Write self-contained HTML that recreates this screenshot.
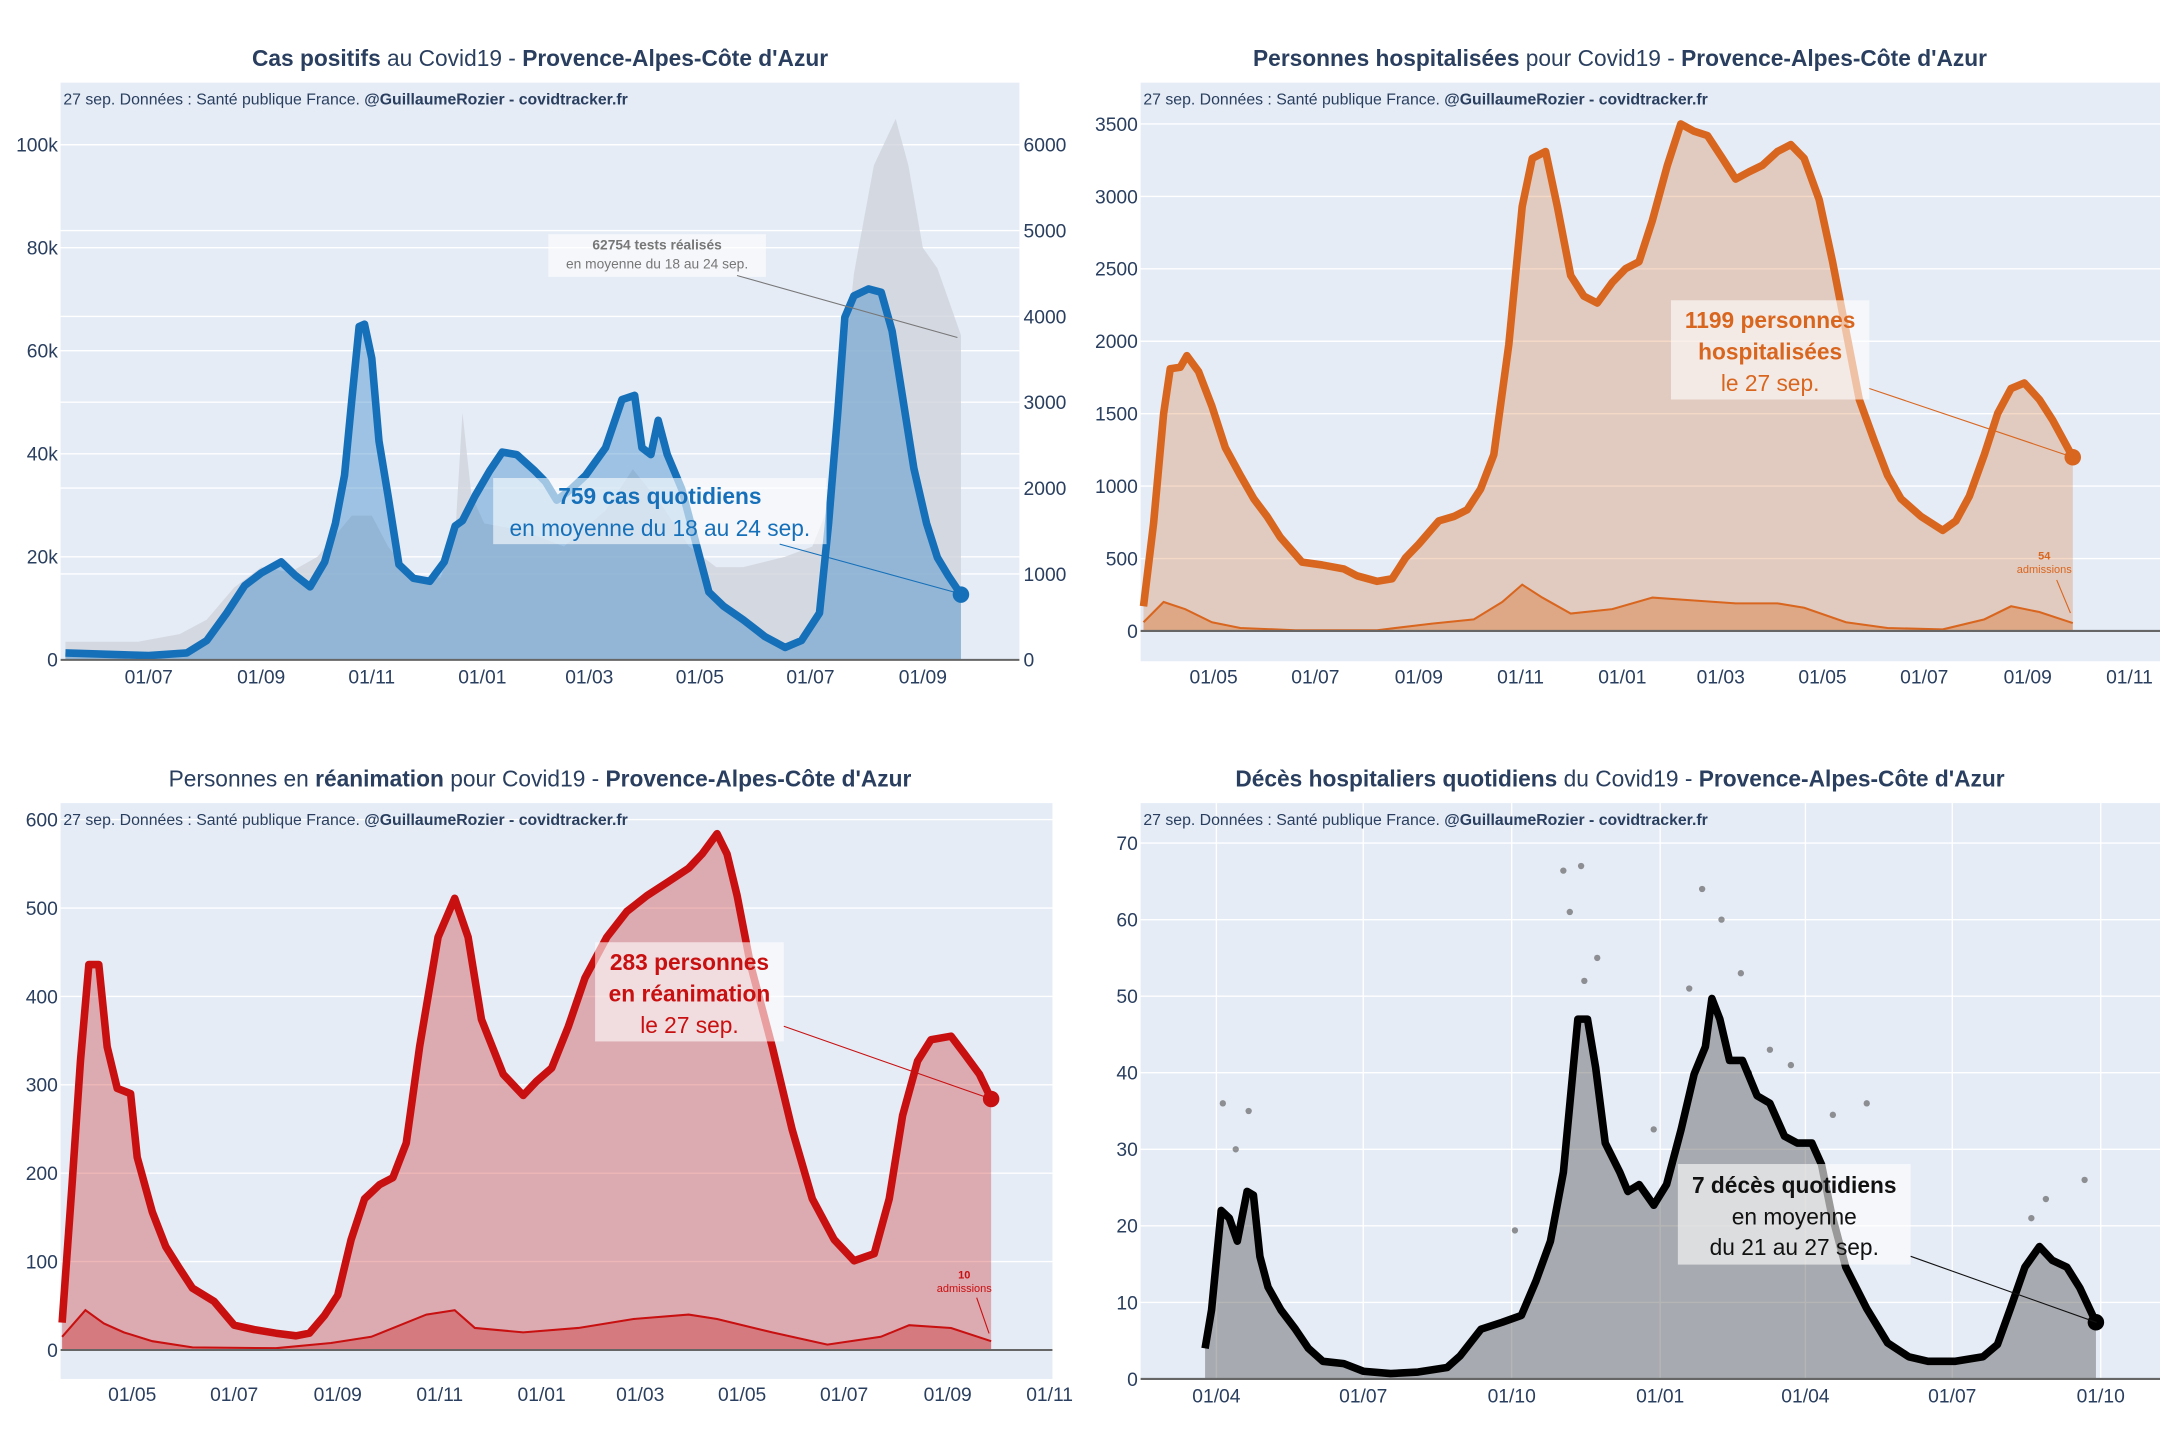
<!DOCTYPE html>
<html><head><meta charset="utf-8"><style>
html,body{margin:0;padding:0;background:#fff;}
svg{display:block;font-family:"Liberation Sans","DejaVu Sans",sans-serif;}
</style></head><body>
<svg id="root" width="2160" height="1440" viewBox="0 0 1568 1045.33" xmlns="http://www.w3.org/2000/svg"></svg>
<script>
// ---- Chart 1: cases (right axis) & tests (left axis), days from 2020-07-01
const casesDays=[-46,0,21,32,43,53,62,73,81,89,97,103,108,112,116,119,123,127,132,138,146,155,163,169,173,180,188,195,203,213,219,225,233,241,252,261,268,272,277,281,286,294,302,309,317,328,340,351,360,370,375,380,384,389,397,404,410,416,422,429,435,441,448];
const casesValues=[80,50,80,225,545,866,1010,1140,980,850,1140,1590,2150,3030,3880,3910,3510,2550,1910,1110,950,915,1140,1560,1620,1910,2200,2420,2390,2200,2070,1860,1990,2150,2470,3030,3080,2470,2390,2790,2390,1990,1350,790,625,465,270,145,225,545,1590,2870,3990,4240,4320,4280,3830,3030,2230,1590,1190,980,760];
const testsDays=[-46,-6,17,32,47,62,78,93,112,123,132,146,161,169,173,178,185,207,229,252,267,283,298,313,328,351,366,374,381,389,400,412,419,427,435,442,448];
const testsValues=[3.5,3.5,5,7.8,14,18,17,20,28,28,22,16,16,24,48,32,26.5,25,22,29,37,30,22,18,18,20,22,29,48,75,96,105,96,80,76,69,63];
const c1LeftTicks=["0","20k","40k","60k","80k","100k"];
const c1RightTicks=["0","1000","2000","3000","4000","5000","6000"];
const c1XTickDays=[0,62,123,184,243,304,365,427];
const c1XTickLabels=["01/07","01/09","01/11","01/01","01/03","01/05","01/07","01/09"];
// ---- Chart 2: hospitalisations, days from 2020-05-01
const hospDays=[-42,-36,-30,-26,-20,-16,-9,-1,7,16,24,32,40,53,65,78,86,98,107,115,123,135,144,152,160,168,177,185,191,199,206,214,222,230,239,247,255,263,272,280,288,296,305,313,321,329,338,346,354,363,371,379,387,396,404,412,424,437,445,453,462,470,478,486,495,503,515];
const hospValues=[170,742,1500,1810,1820,1900,1790,1550,1265,1075,913,790,647,475,456,428,380,342,360,504,600,760,790,837,980,1217,1978,2930,3262,3310,2930,2454,2311,2264,2406,2501,2549,2834,3215,3500,3450,3420,3262,3120,3170,3215,3310,3357,3262,2977,2549,2073,1598,1313,1075,913,790,694,760,930,1217,1503,1674,1712,1598,1455,1199];
const hospAdmDays=[-42,-30,-17,-1,16,49,98,131,156,173,185,197,214,239,263,288,313,338,354,379,404,437,462,478,495,515];
const hospAdmValues=[60,200,150,60,20,5,5,50,80,200,320,230,120,150,230,210,190,190,160,60,20,10,80,170,130,54];
const c2YTicks=[0,500,1000,1500,2000,2500,3000,3500];
const c2XTickDays=[0,61,123,184,245,304,365,426,488,549];
const c2XTickLabels=["01/05","01/07","01/09","01/11","01/01","01/03","01/05","01/07","01/09","01/11"];
// ---- Chart 3: ICU, days from 2020-05-01
const icuDays=[-42,-36,-31,-26,-20,-15,-9,-1,3,12,20,28,36,49,61,73,86,98,106,115,123,131,139,148,156,164,172,183,193,201,209,222,234,242,251,261,271,284,296,308,321,333,341,350,356,362,370,383,395,407,420,432,444,453,461,470,478,490,498,507,514];
const icuValues=[31,187,327,436,436,343,296,290,218,156,117,93,70,55,28,23,19,16,19,39,62,125,171,187,195,234,343,467,511,467,374,312,288,304,319,366,421,467,496,514,530,545,561,584,561,514,436,343,249,171,125,101,109,171,265,327,351,355,335,312,284];
const icuAdmDays=[-42,-28,-17,-5,12,36,86,119,143,176,193,205,234,267,300,333,350,383,416,448,465,490,514];
const icuAdmValues=[15,45,30,20,10,3,2,8,15,40,45,25,20,25,35,40,35,20,6,15,28,25,10];
const c3YTicks=[0,100,200,300,400,500,600];
// ---- Chart 4: deaths, days from 2020-04-01
const deathDays=[-7,-3,3,8,13,19,23,27,32,40,49,57,66,79,91,108,125,143,151,164,177,189,198,207,215,224,230,235,241,250,255,262,271,279,288,296,303,307,312,318,326,335,343,352,360,369,375,381,390,403,416,429,441,458,475,484,492,501,510,518,527,535,545];
const deathValues=[4,9,22,21,18,24.5,24,16,12,9,6.5,4,2.3,2,1,0.7,0.9,1.5,3,6.5,7.4,8.3,12.8,18,27,47,47,40.7,30.8,27,24.5,25.4,22.7,25.4,32.6,39.8,43.4,49.7,47,41.6,41.6,37,36,31.7,30.8,30.8,28,21.8,14.6,9.2,4.7,2.9,2.3,2.3,2.9,4.5,9.2,14.6,17.3,15.5,14.6,11.9,7.4];
const deathDotDays=[215,226,219,236,228,301,313,325,293,356,343,403,382,4,20,12,505,538,514,185,271,330];
const deathDotValues=[66.4,67,61,55,52,64,60,53,51,41,43,36,34.5,36,35,30,21,26,23.5,19.4,32.6,40];
const c4YTicks=[0,10,20,30,40,50,60,70];
const c4XTickDays=[0,91,183,275,365,456,548];
const c4XTickLabels=["01/04","01/07","01/10","01/01","01/04","01/07","01/10"];

const NS="http://www.w3.org/2000/svg";
const root=document.getElementById('root');
function mk(tag,attrs,parent,text){const e=document.createElementNS(NS,tag);for(const k in attrs)e.setAttribute(k,attrs[k]);if(text!==undefined)e.textContent=text;(parent||root).appendChild(e);return e;}
function grp(name){const g=mk('g',{});


return g;}
function linePath(days,vals,xs,ys){return days.map((d,i)=>(i?'L':'M')+xs(d).toFixed(1)+','+ys(vals[i]).toFixed(1)).join('');}
function areaPath(days,vals,xs,ys,y0){return linePath(days,vals,xs,ys)+'L'+xs(days[days.length-1]).toFixed(1)+','+y0+'L'+xs(days[0]).toFixed(1)+','+y0+'Z';}
function title(g,cx,y,parts){const t=mk('text',{x:cx,y:y,'text-anchor':'middle','font-size':16.5,fill:'#2a3f5f'},g);parts.forEach(p=>mk('tspan',{'font-weight':p[1]?'bold':'normal'},t,p[0]));

}
function source(g,x,y){const t=mk('text',{x:x,y:y,'font-size':11.5,fill:'#2a3f5f'},g);mk('tspan',{},t,"27 sep. Données : Santé publique France. ");mk('tspan',{'font-weight':'bold'},t,"@GuillaumeRozier - covidtracker.fr");

}
function annot(g,box,lines,color,line){mk('rect',{x:box[0],y:box[1],width:box[2],height:box[3],fill:'rgba(255,255,255,0.6)'},g);
lines.forEach(l=>mk('text',{x:box[0]+box[2]/2,y:l[1],'text-anchor':'middle','font-size':l[3]||16.5,'font-weight':l[2]?'bold':'normal',fill:color},g,l[0]));
mk('line',{x1:line[0],y1:line[1],x2:line[2],y2:line[3],stroke:color,'stroke-width':0.8},g);}
const BG='#e5ecf6', TICK='#2a3f5f';

// ================= Chart 1
(function(){
 const g=grp('cases-chart');
 const X0=44,X1=740,Yb=479,ppd=1.316,x0=108;
 const xs=d=>x0+d*ppd, yl=v=>Yb-v*3.74, yr=v=>Yb-v*374/6000;
 mk('rect',{x:X0,y:60,width:X1-X0,height:Yb-60,fill:BG},g);
 c1RightTicks.forEach((t,i)=>{const y=yr(i*1000);mk('line',{x1:X0,x2:X1,y1:y,y2:y,stroke:'#fff','stroke-width':1},g);const e=mk('text',{x:X1+3,y:y+5,'font-size':14,fill:TICK},g,t);
 
 });
 c1LeftTicks.forEach((t,i)=>{const y=yl(i*20);mk('line',{x1:X0,x2:X1,y1:y,y2:y,stroke:'#fff','stroke-width':1},g);const e=mk('text',{x:X0-2,y:y+5,'text-anchor':'end','font-size':14,fill:TICK},g,t);
 
 });
 const tests=mk('path',{d:areaPath(testsDays,testsValues,xs,yl,Yb),fill:'rgba(205,209,218,0.75)'},g);
 
 
 const ar=mk('path',{d:areaPath(casesDays,casesValues,xs,yr,Yb),fill:'rgba(60,135,200,0.42)'},g);
 
 
 const ln=mk('path',{d:linePath(casesDays,casesValues,xs,yr),fill:'none',stroke:'#1670b9','stroke-width':5.5,'stroke-linejoin':'round'},g);
 
 
 const n=casesDays.length-1;
 mk('circle',{cx:xs(casesDays[n]),cy:yr(casesValues[n]),r:6,fill:'#1670b9'},g);
 mk('line',{x1:X0,x2:X1,y1:Yb,y2:Yb,stroke:'#666','stroke-width':1.5},g);
 c1XTickDays.forEach((d,i)=>{const e=mk('text',{x:xs(d),y:Yb+17,'text-anchor':'middle','font-size':14,fill:TICK},g,c1XTickLabels[i]);
 
 });
 title(g,392,48,[["Cas positifs",1],[" au Covid19 - ",0],["Provence-Alpes-Côte d'Azur",1]]);
 source(g,46,76);
 annot(g,[398,170,158,31],[["62754 tests réalisés",181,1,10],["en moyenne du 18 au 24 sep.",195,0,10]],'#777',[535,200,695,245]);
 annot(g,[358,347,242,48],[["759 cas quotidiens",366,1],["en moyenne du 18 au 24 sep.",389,0]],'#1670b9',[566,395,697,431]);
})();

// ================= Chart 2
(function(){
 const g=grp('hospitalisations-chart');
 const X0=828,X1=1568,Yb=458,ppd=1.211,x0=881;
 const xs=d=>x0+d*ppd, ys=v=>Yb-v*0.10514;
 mk('rect',{x:X0,y:60,width:X1-X0,height:420,fill:BG},g);
 c2YTicks.forEach(v=>{const y=ys(v);mk('line',{x1:X0,x2:X1,y1:y,y2:y,stroke:'#fff','stroke-width':1},g);const e=mk('text',{x:X0-2,y:y+5,'text-anchor':'end','font-size':14,fill:TICK},g,String(v));
 
 });
 const ar=mk('path',{d:areaPath(hospDays,hospValues,xs,ys,Yb),fill:'rgba(217,102,30,0.25)'},g);
 
 
 const aa=mk('path',{d:areaPath(hospAdmDays,hospAdmValues,xs,ys,Yb),fill:'rgba(217,102,30,0.35)'},g);
 
 
 const al=mk('path',{d:linePath(hospAdmDays,hospAdmValues,xs,ys),fill:'none',stroke:'#d9661f','stroke-width':1.5},g);
 
 
 const ln=mk('path',{d:linePath(hospDays,hospValues,xs,ys),fill:'none',stroke:'#d9661f','stroke-width':5.5,'stroke-linejoin':'round'},g);
 
 
 const n=hospDays.length-1;
 mk('circle',{cx:xs(hospDays[n]),cy:ys(hospValues[n]),r:6,fill:'#d9661f'},g);
 mk('line',{x1:X0,x2:X1,y1:Yb,y2:Yb,stroke:'#666','stroke-width':1.5},g);
 c2XTickDays.forEach((d,i)=>{const e=mk('text',{x:xs(d),y:Yb+38,'text-anchor':'middle','font-size':14,fill:TICK},g,c2XTickLabels[i]);
 
 });
 title(g,1176,48,[["Personnes hospitalisées",1],[" pour Covid19 - ",0],["Provence-Alpes-Côte d'Azur",1]]);
 source(g,830,76);
 annot(g,[1213,218,144,72],[["1199 personnes",238,1],["hospitalisées",261,1],["le 27 sep.",284,0]],'#d9661f',[1357,282,1505,332]);
 mk('text',{x:1484,y:406,'text-anchor':'middle','font-size':8,'font-weight':'bold',fill:'#d9661f'},g,"54");
 mk('text',{x:1484,y:416,'text-anchor':'middle','font-size':8,fill:'#d9661f'},g,"admissions");
 mk('line',{x1:1493,y1:421,x2:1503,y2:445,stroke:'#d9661f','stroke-width':0.8},g);
})();

// ================= Chart 3
(function(){
 const g=grp('icu-chart');
 const X0=44,X1=764,Yb=980,ppd=1.213,x0=96;
 const xs=d=>x0+d*ppd, ys=v=>Yb-v*0.6417;
 mk('rect',{x:X0,y:583,width:X1-X0,height:418,fill:BG},g);
 c3YTicks.forEach(v=>{const y=ys(v);mk('line',{x1:X0,x2:X1,y1:y,y2:y,stroke:'#fff','stroke-width':1},g);const e=mk('text',{x:X0-2,y:y+5,'text-anchor':'end','font-size':14,fill:TICK},g,String(v));
 
 });
 const ar=mk('path',{d:areaPath(icuDays,icuValues,xs,ys,Yb),fill:'rgba(200,16,16,0.3)'},g);
 
 
 const aa=mk('path',{d:areaPath(icuAdmDays,icuAdmValues,xs,ys,Yb),fill:'rgba(200,16,16,0.3)'},g);
 
 
 const al=mk('path',{d:linePath(icuAdmDays,icuAdmValues,xs,ys),fill:'none',stroke:'#c81010','stroke-width':1.5},g);
 
 
 const ln=mk('path',{d:linePath(icuDays,icuValues,xs,ys),fill:'none',stroke:'#c81010','stroke-width':5.5,'stroke-linejoin':'round'},g);
 
 
 const n=icuDays.length-1;
 mk('circle',{cx:xs(icuDays[n]),cy:ys(icuValues[n]),r:6,fill:'#c81010'},g);
 mk('line',{x1:X0,x2:X1,y1:Yb,y2:Yb,stroke:'#666','stroke-width':1.5},g);
 c2XTickDays.forEach((d,i)=>{const e=mk('text',{x:xs(d),y:Yb+37,'text-anchor':'middle','font-size':14,fill:TICK},g,c2XTickLabels[i]);
 
 });
 title(g,392,571,[["Personnes en ",0],["réanimation",1],[" pour Covid19 - ",0],["Provence-Alpes-Côte d'Azur",1]]);
 source(g,46,599);
 annot(g,[432,684,137,72],[["283 personnes",704,1],["en réanimation",727,1],["le 27 sep.",750,0]],'#c81010',[569,745,720,798]);
 mk('text',{x:700,y:928,'text-anchor':'middle','font-size':8,'font-weight':'bold',fill:'#c81010'},g,"10");
 mk('text',{x:700,y:938,'text-anchor':'middle','font-size':8,fill:'#c81010'},g,"admissions");
 mk('line',{x1:709,y1:942,x2:718,y2:968,stroke:'#c81010','stroke-width':0.8},g);
})();

// ================= Chart 4
(function(){
 const g=grp('deaths-chart');
 const X0=828,X1=1568,Yb=1001,ppd=1.1715,x0=883;
 const xs=d=>x0+d*ppd, ys=v=>Yb-v*5.557;
 mk('rect',{x:X0,y:583,width:X1-X0,height:Yb-583,fill:BG},g);
 c4YTicks.forEach(v=>{const y=ys(v);mk('line',{x1:X0,x2:X1,y1:y,y2:y,stroke:'#fff','stroke-width':1},g);const e=mk('text',{x:X0-2,y:y+5,'text-anchor':'end','font-size':14,fill:TICK},g,String(v));
 
 });
 c4XTickDays.forEach(d=>mk('line',{x1:xs(d),x2:xs(d),y1:583,y2:Yb,stroke:'#fff','stroke-width':1},g));
 const ar=mk('path',{d:areaPath(deathDays,deathValues,xs,ys,Yb),fill:'rgba(90,90,90,0.45)'},g);
 
 
 deathDotDays.forEach((d,i)=>{const c=mk('circle',{cx:xs(d),cy:ys(deathDotValues[i]),r:2.3,fill:'rgba(80,80,80,0.6)'},g);
 
 });
 const ln=mk('path',{d:linePath(deathDays,deathValues,xs,ys),fill:'none',stroke:'#000','stroke-width':5.5,'stroke-linejoin':'round'},g);
 
 
 const n=deathDays.length-1;
 mk('circle',{cx:xs(deathDays[n]),cy:ys(deathValues[n]),r:6,fill:'#000'},g);
 mk('line',{x1:X0,x2:X1,y1:Yb,y2:Yb,stroke:'#666','stroke-width':1.5},g);
 c4XTickDays.forEach((d,i)=>{const e=mk('text',{x:xs(d),y:Yb+17,'text-anchor':'middle','font-size':14,fill:TICK},g,c4XTickLabels[i]);
 
 });
 title(g,1176,571,[["Décès hospitaliers quotidiens",1],[" du Covid19 - ",0],["Provence-Alpes-Côte d'Azur",1]]);
 source(g,830,599);
 annot(g,[1218,845,169,73],[["7 décès quotidiens",866,1],["en moyenne",889,0],["du 21 au 27 sep.",911,0]],'#111',[1387,912,1522,960]);
})();
</script>
</body></html>
